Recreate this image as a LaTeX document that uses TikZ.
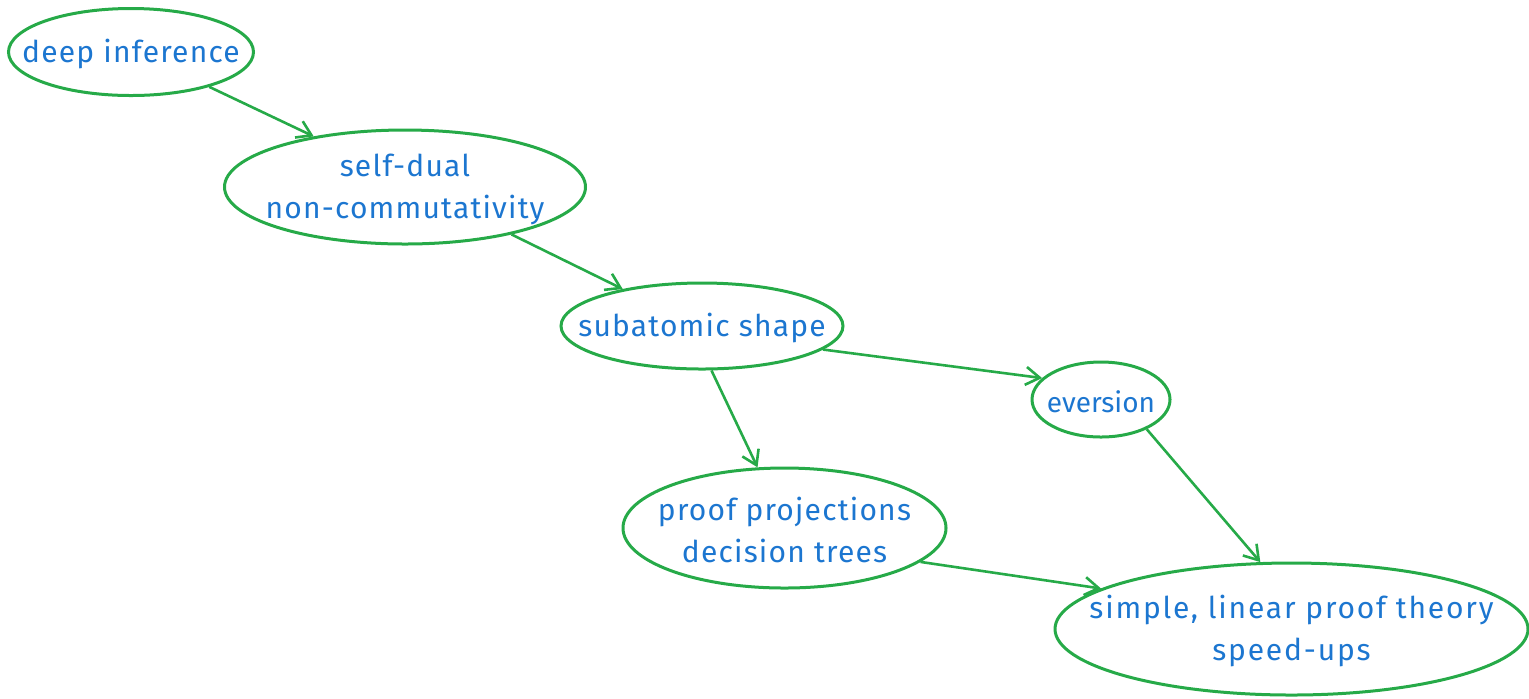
\documentclass[tikz,border=0pt]{standalone}
\usepackage{fontspec}
\setmainfont{Fira Sans}
\usetikzlibrary{shapes.geometric,arrows.meta}
\definecolor{edgegreen}{RGB}{38,170,72}
\definecolor{inkblue}{RGB}{28,118,208}
\tikzset{
  topic/.style={ellipse, draw=edgegreen, line width=1.5pt, inner sep=0pt},
  caption/.style={text=inkblue, align=center, inner sep=0pt,
    font=\fontsize{15}{21}\selectfont\addfontfeatures{LetterSpace=4}},
  link/.style={draw=edgegreen, line width=1.3pt, -{Straight Barb[length=7pt,width=9pt]}}
}
\begin{document}
\begin{tikzpicture}[x=0.5pt,y=-0.5pt]
\useasboundingbox (0,0) rectangle (1529,698);
% the ellipses, sized independently of their text
\node[topic, minimum width=122.5pt, minimum height=43.5pt] (deep) at (131,52) {};
\node[topic, minimum width=180.5pt, minimum height=57pt] (dual) at (405,187) {};
\node[topic, minimum width=141pt, minimum height=43pt] (sub) at (702,326) {};
\node[topic, minimum width=69pt, minimum height=37.5pt] (ev) at (1101,399.5) {};
\node[topic, minimum width=161.5pt, minimum height=60pt] (proj) at (784.5,528) {};
\node[topic, minimum width=236.5pt, minimum height=66pt] (simple) at (1291.5,629) {};
% their texts
\node[caption] (deeptext) at ([yshift=-1pt]deep.center) {deep inference};
\node[caption] (dualtext) at ([yshift=-1pt]dual.center) {self-dual\\non-commutativity};
\node[caption] (subtext) at ([yshift=-1pt]sub.center) {subatomic shape};
\node[caption, font=\fontsize{14}{21}\selectfont] (evtext) at ([yshift=-1pt]ev.center) {eversion};
\node[caption] (projtext) at ([yshift=-1pt]proj.center) {proof projections\\decision trees};
\node[caption, font=\fontsize{15}{21}\selectfont\addfontfeatures{LetterSpace=6}] (simpletext) at ([yshift=-1pt]simple.center) {simple, linear proof theory\\speed-ups};
% connectors
\draw[link] (deep.-24) -- (dual.151);
\draw[link] (dual.-24) -- (sub.155);
\draw[link] (sub.-11) -- (ev.160);
\draw[link] (sub.-78) -- (proj.114);
\draw[link] (ev.-33) -- (simple.115);
\draw[link] (proj.-14) -- (simple.168);
\end{tikzpicture}
\end{document}
